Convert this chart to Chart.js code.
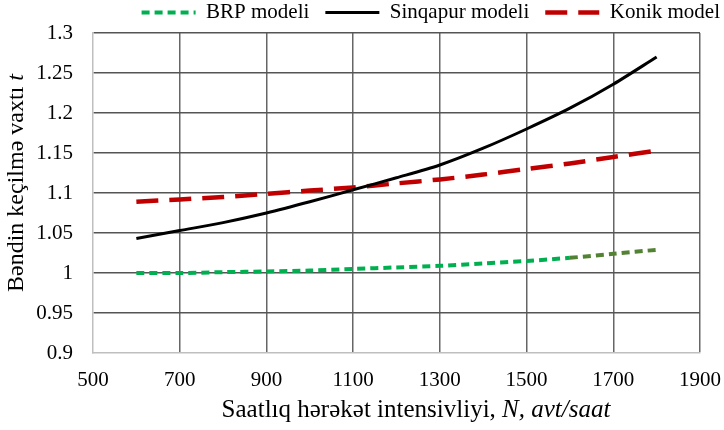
<!DOCTYPE html>
<html>
<head>
<meta charset="utf-8">
<script src="https://cdn.jsdelivr.net/npm/chart.js@4.4.1/dist/chart.umd.min.js"></script>
<style>
  html, body { margin: 0; padding: 0; background: #fff; }
  #wrap { width: 724px; height: 430px; }
</style>
</head>
<body>
<div id="wrap"><canvas id="myChart" width="724" height="430"></canvas></div>
<script>
const serif = "'Liberation Serif', 'Times New Roman', serif";

// traffic intensity, N (avt/saat)
const nValues = [600, 700, 800, 900, 1000, 1100, 1200, 1300, 1400, 1500, 1600, 1700, 1800];
const brp = [1.000, 1.000, 1.001, 1.002, 1.003, 1.005, 1.007, 1.009, 1.012, 1.015, 1.019, 1.024, 1.029];
const sinqapur = [1.043, 1.053, 1.063, 1.075, 1.089, 1.104, 1.119, 1.135, 1.156, 1.180, 1.206, 1.236, 1.270];
const konik = [1.089, 1.092, 1.095, 1.099, 1.103, 1.107, 1.112, 1.117, 1.123, 1.130, 1.137, 1.145, 1.153];

const seriesNames = ['BRP modeli', 'Sinqapur modeli', 'Konik model'];
const xTitle = ['Saatlıq hərəkət intensivliyi, ', 'N, avt/saat'];
const yTitle = ['Bəndin keçilmə vaxtı ', 't'];

const pts = arr => arr.map((v, i) => ({ x: nValues[i], y: v }));

// axis titles with an italic part
const axisTitles = {
  id: 'axisTitles',
  afterDraw(chart) {
    const c = chart.ctx;
    c.save();
    c.fillStyle = '#000';
    c.textBaseline = 'alphabetic';
    c.textAlign = 'left';
    // x title
    c.font = '25px ' + serif;
    let w1 = c.measureText(xTitle[0]).width;
    c.font = 'italic 25px ' + serif;
    let w2 = c.measureText(xTitle[1]).width;
    let x0 = 416 - (w1 + w2) / 2;
    c.font = '25px ' + serif;
    c.fillText(xTitle[0], x0, 417);
    c.font = 'italic 25px ' + serif;
    c.fillText(xTitle[1], x0 + w1, 417);
    // y title
    c.translate(23, 183);
    c.rotate(-Math.PI / 2);
    c.font = '24px ' + serif;
    w1 = c.measureText(yTitle[0]).width;
    c.font = 'italic 24px ' + serif;
    w2 = c.measureText(yTitle[1]).width;
    x0 = -(w1 + w2) / 2;
    c.font = '24px ' + serif;
    c.fillText(yTitle[0], x0, 0);
    c.font = 'italic 24px ' + serif;
    c.fillText(yTitle[1], x0 + w1, 0);
    c.restore();
  }
};

const ctx = document.getElementById('myChart').getContext('2d');

new Chart(ctx, {
  type: 'line',
  data: {
    datasets: [
      {
        label: seriesNames[0],
        data: pts(brp),
        borderColor: '#00B050',
        backgroundColor: 'transparent',
        borderWidth: 4,
        borderDash: [8, 5],
        segment: {
          borderColor: s => s.p0.parsed.x >= 1600 ? '#548235' : '#00B050'
        },
        pointRadius: 0,
        tension: 0.3
      },
      {
        label: seriesNames[1],
        data: pts(sinqapur),
        borderColor: '#000000',
        backgroundColor: 'transparent',
        borderWidth: 3,
        pointRadius: 0,
        tension: 0.3
      },
      {
        label: seriesNames[2],
        data: pts(konik),
        borderColor: '#C00000',
        backgroundColor: 'transparent',
        borderWidth: 4.5,
        borderDash: [22, 11],
        pointRadius: 0,
        tension: 0.3
      }
    ]
  },
  options: {
    responsive: false,
    animation: false,
    devicePixelRatio: 1,
    layout: { padding: { top: -14, left: 0, right: -12, bottom: 0 } },
    plugins: {
      legend: {
        position: 'top',
        align: 'end',
        labels: {
          usePointStyle: true,
          pointStyle: 'line',
          pointStyleWidth: 54,
          padding: 16,
          color: '#000',
          font: { family: serif, size: 21 },
          generateLabels: chart => {
            const items = Chart.defaults.plugins.legend.labels.generateLabels(chart);
            items.forEach(it => {
              const ds = chart.data.datasets[it.datasetIndex];
              it.lineDash = ds.borderDash || [];
              it.lineWidth = ds.borderWidth;
              it.strokeStyle = ds.borderColor;
            });
            return items;
          }
        }
      },
      tooltip: { enabled: false }
    },
    scales: {
      x: {
        type: 'linear',
        min: 500,
        max: 1900,
        afterFit: s => { s.height = 77; s.paddingLeft = 0; s.paddingRight = 24; },
        ticks: {
          stepSize: 200,
          padding: 15,
          color: '#000',
          font: { family: serif, size: 21 },
          maxRotation: 0,
          callback: v => String(v)
        },
        grid: {
          color: g => g.index === 0 ? 'transparent' : '#666666',
          lineWidth: 1.5,
          drawTicks: false
        },
        border: { color: '#BFBFBF', width: 1.5 }
      },
      y: {
        min: 0.9,
        max: 1.3,
        afterFit: s => { s.width = 93; },
        ticks: {
          stepSize: 0.05,
          padding: 20,
          color: '#000',
          font: { family: serif, size: 21 },
          callback: v => String(+v.toFixed(2))
        },
        grid: {
          color: g => g.index === 0 ? 'transparent' : '#555555',
          lineWidth: 1.5,
          drawTicks: false
        },
        border: { color: '#BFBFBF', width: 1.5 }
      }
    }
  },
  plugins: [axisTitles]
});
</script>
</body>
</html>
